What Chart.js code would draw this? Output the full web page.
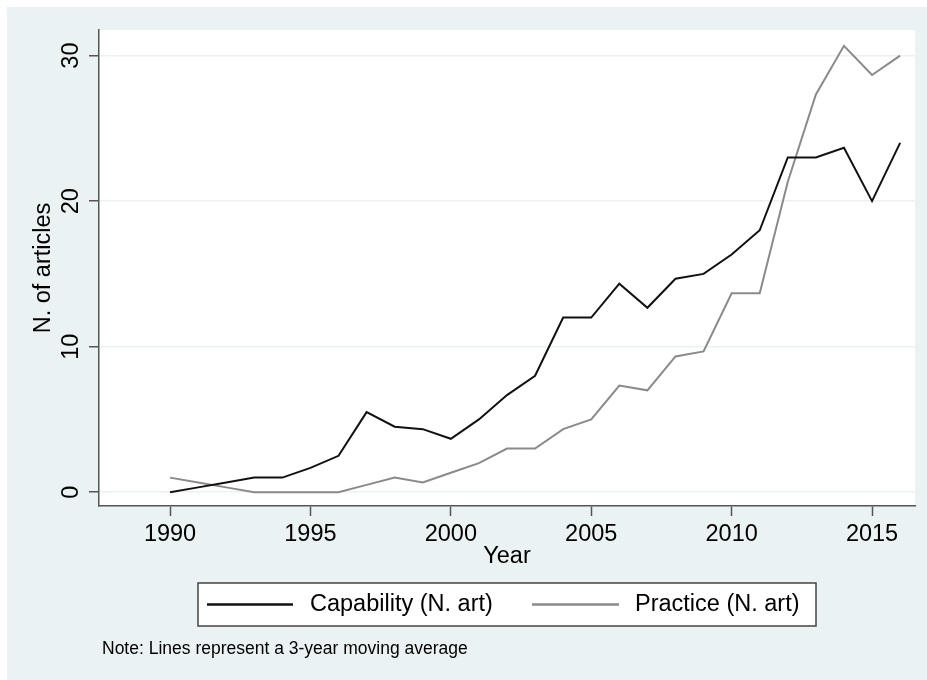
<!DOCTYPE html>
<html>
<head>
<meta charset="utf-8">
<script src="https://cdn.jsdelivr.net/npm/chart.js@4.4.1/dist/chart.umd.min.js"></script>
<style>
  html, body { margin: 0; padding: 0; background: #fff; }
  #wrap { width: 927px; height: 680px; position: relative; }
</style>
</head>
<body>
<div id="wrap"><canvas id="myChart"></canvas></div>
<script>
// data (3-year moving averages)
const years = [1990, 1991, 1992, 1993, 1994, 1995, 1996, 1997, 1998, 1999, 2000, 2001, 2002, 2003,
               2004, 2005, 2006, 2007, 2008, 2009, 2010, 2011, 2012, 2013, 2014, 2015, 2016];
const capability = [0, 0.33, 0.67, 1, 1, 1.67, 2.5, 5.5, 4.5, 4.33, 3.67, 5, 6.67, 8,
                    12, 12, 14.33, 12.67, 14.67, 15, 16.33, 18, 23, 23, 23.67, 20, 24];
const practice = [1, 0.67, 0.33, 0, 0, 0, 0, 0.5, 1, 0.67, 1.33, 2, 3, 3,
                  4.33, 5, 7.33, 7, 9.33, 9.67, 13.67, 13.67, 21.33, 27.33, 30.67, 28.67, 30];
const seriesNames = ['Capability (N. art)', 'Practice (N. art)'];
const yTicks = [0, 10, 20, 30];
const xTitle = 'Year';
const yTitle = 'N. of articles';
const note = 'Note: Lines represent a 3-year moving average';

const FONT = "'Liberation Sans', Arial, Helvetica, sans-serif";
const BLUISH = '#EAF2F3';
const AXIS = '#555555';
const lineColors = ['#111111', '#8a8a8a'];

const ctx = document.getElementById('myChart');

const stataLook = {
  id: 'stataLook',
  beforeDraw(chart) {
    const c = chart.ctx;
    const a = chart.chartArea;
    c.save();
    c.fillStyle = '#ffffff';
    c.fillRect(0, 0, chart.width, chart.height);
    c.fillStyle = BLUISH;
    c.fillRect(7, 7, chart.width - 7, chart.height - 7);
    c.fillStyle = '#ffffff';
    c.fillRect(a.left, a.top, a.right - a.left, a.bottom - a.top);
    c.restore();
  },
  afterDraw(chart) {
    const c = chart.ctx;
    const a = chart.chartArea;
    const ys = chart.scales.y;
    c.save();
    c.fillStyle = '#000';
    c.font = '23.5px ' + FONT;
    c.textAlign = 'center';
    c.textBaseline = 'middle';
    // rotated y tick labels
    yTicks.forEach(v => {
      const py = ys.getPixelForValue(v);
      c.save();
      c.translate(72, py);
      c.rotate(-Math.PI / 2);
      c.fillText(String(v), 0, 0);
      c.restore();
    });
    // y title
    c.save();
    c.translate(44, (a.top + a.bottom) / 2);
    c.rotate(-Math.PI / 2);
    c.fillText(yTitle, 0, 0);
    c.restore();
    // x title
    c.fillText(xTitle, (a.left + a.right) / 2, 557);

    // legend
    c.fillStyle = '#fff';
    c.fillRect(198, 583, 618, 43);
    c.strokeStyle = '#444';
    c.lineWidth = 1.5;
    c.strokeRect(198, 583, 618, 43);
    const items = [
      { x1: 207, x2: 293, tx: 310 },
      { x1: 532, x2: 619, tx: 635 }
    ];
    items.forEach((it, i) => {
      c.strokeStyle = lineColors[i];
      c.lineWidth = 2.5;
      c.beginPath();
      c.moveTo(it.x1, 604.5);
      c.lineTo(it.x2, 604.5);
      c.stroke();
      c.fillStyle = '#000';
      c.textAlign = 'left';
      c.fillText(seriesNames[i], it.tx, 605);
    });

    // note
    c.font = '17.5px ' + FONT;
    c.textAlign = 'left';
    c.fillText(note, 102, 649);
    c.restore();
  }
};

new Chart(ctx, {
  type: 'line',
  data: {
    datasets: [
      {
        label: seriesNames[0],
        data: years.map((yr, i) => ({ x: yr, y: capability[i] })),
        borderColor: lineColors[0],
        borderWidth: 2,
        pointRadius: 0,
        tension: 0
      },
      {
        label: seriesNames[1],
        data: years.map((yr, i) => ({ x: yr, y: practice[i] })),
        borderColor: lineColors[1],
        borderWidth: 2,
        pointRadius: 0,
        tension: 0
      }
    ]
  },
  options: {
    responsive: true,
    maintainAspectRatio: false,
    animation: false,
    layout: { padding: { left: 0, top: 30, right: 12, bottom: 0 } },
    plugins: {
      legend: { display: false },
      tooltip: { enabled: false }
    },
    scales: {
      x: {
        type: 'linear',
        min: 1987.47,
        max: 2016.53,
        afterFit(scale) { scale.height = 174; },
        border: { color: AXIS, width: 1.5 },
        grid: { drawOnChartArea: false, tickLength: 10, tickColor: AXIS, tickWidth: 1.5 },
        ticks: {
          stepSize: 5,
          includeBounds: false,
          autoSkip: false,
          maxRotation: 0,
          padding: 4,
          color: '#000',
          font: { family: FONT, size: 23.5 },
          callback: v => String(v)
        }
      },
      y: {
        min: -0.95,
        max: 31.76,
        afterFit(scale) { scale.width = 99; },
        border: { color: AXIS, width: 1.5 },
        grid: { color: BLUISH, lineWidth: 1.5, tickLength: 10, tickColor: AXIS, tickWidth: 1.5 },
        ticks: {
          stepSize: 10,
          includeBounds: false,
          display: false
        }
      }
    }
  },
  plugins: [stataLook]
});
</script>
</body>
</html>
